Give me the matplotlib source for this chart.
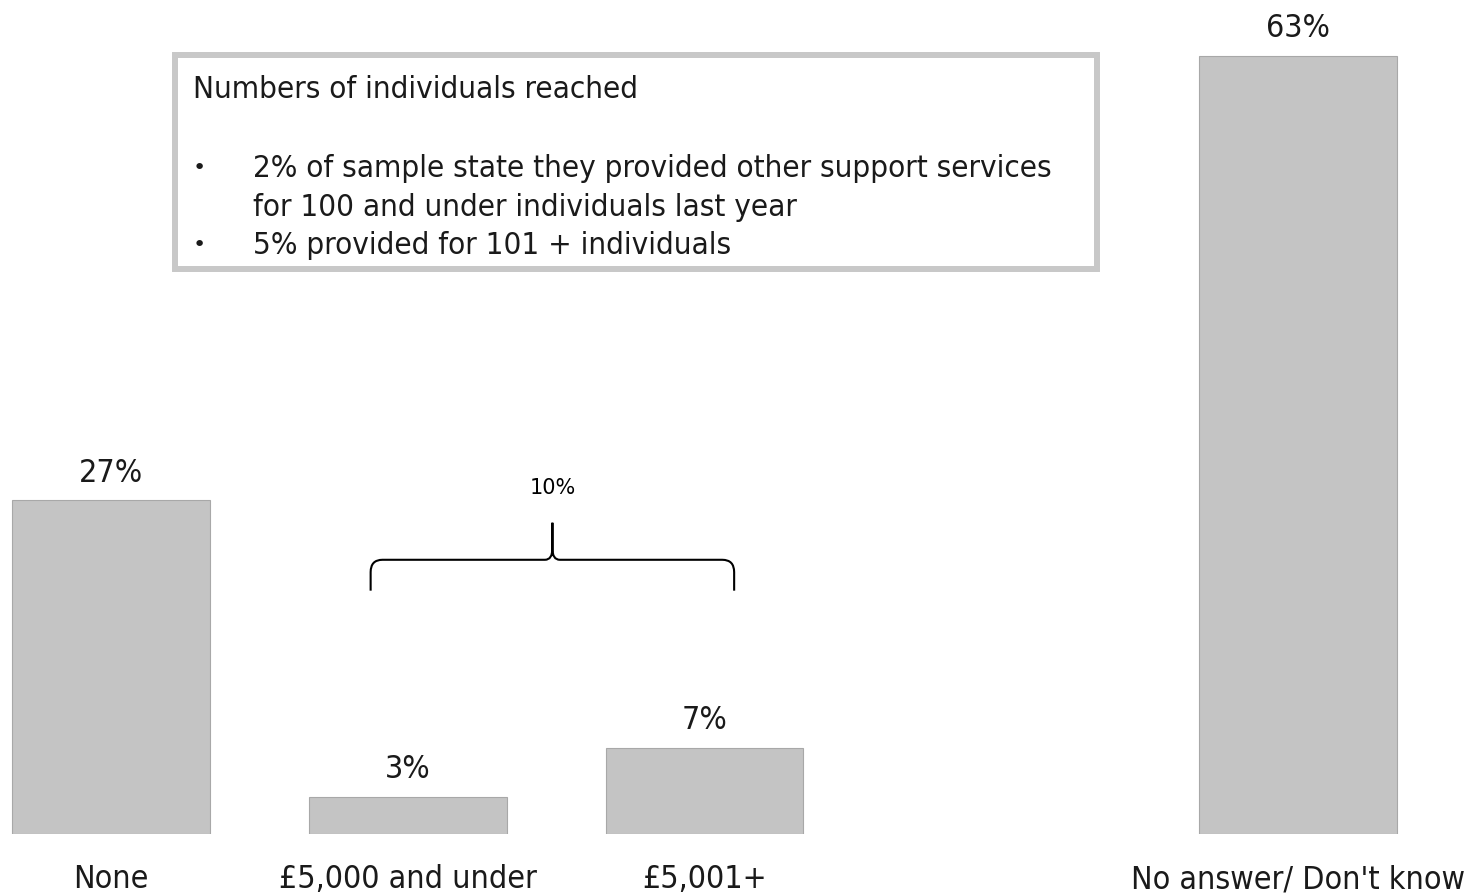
import matplotlib.pyplot as plt
from matplotlib.path import Path
from matplotlib.patches import PathPatch, Rectangle

categories = ["None", "£5,000 and under", "£5,001+", "No answer/ Don't know"]
positions = [0, 1, 2, 4]
values = [27, 3, 7, 63]
group_total = 10  # sum of the two spending bands
box_title = "Numbers of individuals reached"
box_bullets = [["2% of sample state they provided other support services",
                "for 100 and under individuals last year"],
               ["5% provided for 101 + individuals"]]

FONT = dict(family="DejaVu Sans", stretch="condensed")

fig = plt.figure(figsize=(14.68, 8.95), dpi=100)
ax = fig.add_axes([0, 60 / 895, 1, 835 / 895])
ax.set_xlim(-0.374, 4.573)
ax.set_ylim(0, 67.6)

ax.bar(positions, values, width=0.667, color="#c4c4c4", edgecolor="#a8a8a8", linewidth=0.8)
for x, v in zip(positions, values):
    ax.text(x, v + 2.3, f"{v}%", ha="center", va="center", fontsize=23, color="#1a1a1a", **FONT)

ax.set_xticks(positions)
ax.set_xticklabels(categories, fontsize=23, color="#1a1a1a", **FONT)
ax.tick_params(axis="x", length=0, pad=21)
ax.set_yticks([])
for s in ax.spines.values():
    s.set_visible(False)

# brace over the two spending bars
x0, x1 = positions[1] - 0.125, positions[2] + 0.10
xm = (x0 + x1) / 2
yb, yh, yt = 19.7, 22.2, 25.2
verts = [(x0, yb), (x0, yh - 1.0), (x0, yh), (x0 + 0.04, yh),
         (xm - 0.025, yh), (xm, yh), (xm, yh + 0.9), (xm, yt),
         (xm, yh + 0.9), (xm, yh), (xm + 0.025, yh),
         (x1 - 0.04, yh), (x1, yh), (x1, yh - 1.0), (x1, yb)]
codes = [Path.MOVETO, Path.LINETO, Path.CURVE3, Path.CURVE3,
         Path.LINETO, Path.CURVE3, Path.CURVE3, Path.LINETO,
         Path.LINETO, Path.CURVE3, Path.CURVE3,
         Path.LINETO, Path.CURVE3, Path.CURVE3, Path.LINETO]
ax.add_patch(PathPatch(Path(verts, codes), fill=False, lw=1.5, color="black", capstyle="butt"))
ax.text(xm, 28.1, f"{group_total}%", ha="center", va="center", fontsize=15, color="black")

# info box
W, H = 1468, 895
fig.patches.append(Rectangle((175 / W, 1 - 270 / H), 922 / W, 214 / H, transform=fig.transFigure,
                             fill=False, edgecolor="#c8c8c8", lw=4.3, figure=fig))
fig.text(193 / W, 1 - 98 / H, box_title, ha="left", va="baseline", fontsize=22.5, color="#1a1a1a", **FONT)
baseline = 177
for lines in box_bullets:
    fig.text(193 / W, 1 - (baseline - 3) / H, "•", ha="left", va="baseline", fontsize=16, color="#1a1a1a")
    for line in lines:
        fig.text(253 / W, 1 - baseline / H, line, ha="left", va="baseline", fontsize=22.5,
                 color="#1a1a1a", **FONT)
        baseline += 38.5

fig.savefig("out.png", dpi=100)
